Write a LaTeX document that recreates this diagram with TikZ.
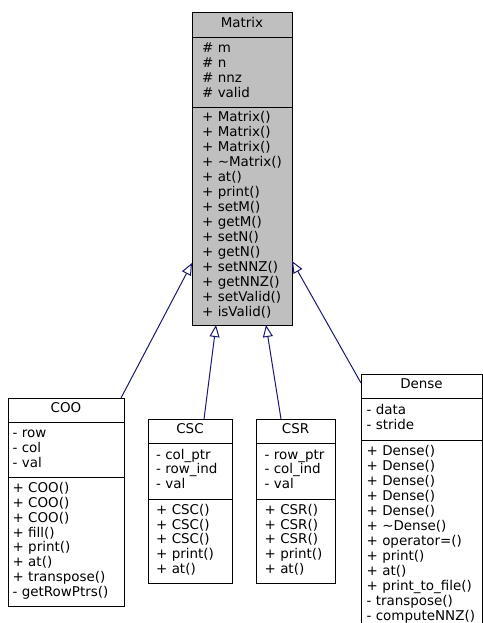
\documentclass[tikz,border=0pt]{standalone}
\usepackage{fontspec}
\setmainfont{DejaVu Sans}
\usetikzlibrary{positioning, arrows.meta}
\definecolor{navyedge}{HTML}{191970}
\definecolor{basegray}{HTML}{BFBFBF}
\newcommand{\umlfont}{\fontsize{13.5}{15}\selectfont}

\begin{document}
\begin{tikzpicture}[x=1bp, y=1bp, font=\umlfont,
        box/.style = {draw=black, line width=0.8bp, fill=white, outer sep=0pt, inner sep=0pt},
        cls/.style = {box, anchor=north west, execute at begin node=\strut},
        part/.style = {box, align=left, execute at begin node={\leftskip=#1\strut}, execute at end node=\strut},
        inherit/.style = {draw=navyedge, line width=1bp, -{Triangle[open, length=12bp, width=10bp]}}
    ]
    \useasboundingbox (0,0) rectangle (483,-623);

    % base class
    \node[cls, fill=basegray, minimum width=100bp, minimum height=25bp] (matrix) at (192,-12) {Matrix};
    \node[part=10bp, fill=basegray, text width=100bp, minimum height=70bp, below=0pt of matrix] (matrixattr)
        {\# m\\\# n\\\# nnz\\\# valid};
    \node[part=10bp, fill=basegray, text width=100bp, minimum height=218bp, below=0pt of matrixattr] (matrixops)
        {+ Matrix()\\+ Matrix()\\+ Matrix()\\+ \textasciitilde Matrix()\\+ at()\\+ print()\\+ setM()\\+ getM()\\+ setN()\\+ getN()\\+ setNNZ()\\+ getNNZ()\\+ setValid()\\+ isValid()};

    % COO
    \node[cls, minimum width=116bp, minimum height=24bp] (coo) at (8,-398) {COO};
    \node[part=4.5bp, text width=116bp, minimum height=55bp, below=0pt of coo] (cooattr)
        {- row\\- col\\- val};
    \node[part=4.5bp, text width=116bp, minimum height=129bp, below=0pt of cooattr] (cooops)
        {+ COO()\\+ COO()\\+ COO()\\+ fill()\\+ print()\\+ at()\\+ transpose()\\- getRowPtrs()};

    % CSC
    \node[cls, minimum width=84bp, minimum height=24bp] (csc) at (148,-419) {CSC};
    \node[part=8bp, text width=84bp, minimum height=56bp, below=0pt of csc] (cscattr)
        {- col\_ptr\\- row\_ind\\- val};
    \node[part=8bp, text width=84bp, minimum height=84bp, below=0pt of cscattr] (cscops)
        {+ CSC()\\+ CSC()\\+ CSC()\\+ print()\\+ at()};

    % CSR
    \node[cls, minimum width=79bp, minimum height=24bp] (csr) at (256,-419) {CSR};
    \node[part=8.5bp, text width=79bp, minimum height=56bp, below=0pt of csr] (csrattr)
        {- row\_ptr\\- col\_ind\\- val};
    \node[part=8.5bp, text width=79bp, minimum height=84bp, below=0pt of csrattr] (csrops)
        {+ CSR()\\+ CSR()\\+ CSR()\\+ print()\\+ at()};

    % Dense
    \node[cls, minimum width=121bp, minimum height=24bp] (dense) at (361,-374) {Dense};
    \node[part=5.5bp, text width=121bp, minimum height=42bp, below=0pt of dense] (denseattr)
        {- data\\- stride};
    \node[part=5.5bp, text width=121bp, minimum height=190bp, below=0pt of denseattr] (denseops)
        {+ Dense()\\+ Dense()\\+ Dense()\\+ Dense()\\+ Dense()\\+ \textasciitilde Dense()\\+ operator=()\\+ print()\\+ at()\\+ print\_to\_file()\\- transpose()\\- computeNNZ()};

    \draw[inherit] ([xshift=-3bp]coo.north east) -- ([yshift=-47bp]matrixops.west);
    \draw[inherit] ([xshift=14bp]csc.north) -- ([xshift=-26bp]matrixops.south);
    \draw[inherit] ([xshift=-14.5bp]csr.north) -- ([xshift=24bp]matrixops.south);
    \draw[inherit] ([yshift=3bp]dense.west) -- ([yshift=-45bp]matrixops.east);
\end{tikzpicture}
\end{document}
